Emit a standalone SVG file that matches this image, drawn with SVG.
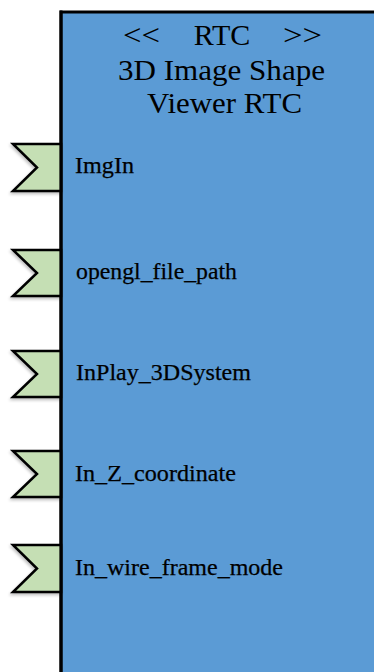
<svg xmlns="http://www.w3.org/2000/svg" width="374" height="672" viewBox="0 0 374 672">
<style>
.box{fill:#5B9BD5;stroke:#000;stroke-width:3}
.port{fill:#C5DFB4;stroke:#000;stroke-width:2.5;stroke-linejoin:miter}
.title{font-family:"Liberation Serif",serif;font-size:30px;fill:#000;text-anchor:middle}
.lbl{font-family:"Liberation Serif",serif;font-size:23.5px;fill:#000;stroke:#000;stroke-width:0.25}
</style>
<defs>
<filter id="sh" x="-20%" y="-20%" width="150%" height="150%">
<feGaussianBlur in="SourceAlpha" stdDeviation="1.5"/>
<feOffset dx="-1" dy="2" result="b"/>
<feComponentTransfer><feFuncA type="linear" slope="0.25"/></feComponentTransfer>
<feMerge><feMergeNode/><feMergeNode in="SourceGraphic"/></feMerge>
</filter>
</defs>
<g id="rtc">
<rect class="box" x="61" y="12" width="340" height="700"/>
<text class="title" x="141.5" y="45" textLength="37" lengthAdjust="spacingAndGlyphs">&lt;&lt;</text>
<text class="title" x="222" y="45">RTC</text>
<text class="title" x="302.5" y="45" textLength="39" lengthAdjust="spacingAndGlyphs">&gt;&gt;</text>
<text class="title" x="221.5" y="80" textLength="207" lengthAdjust="spacingAndGlyphs">3D Image Shape</text>
<text class="title" x="224.5" y="113" textLength="155" lengthAdjust="spacingAndGlyphs">Viewer RTC</text>
</g>
<g id="connectors"></g>
<g id="port-ImgIn">
<polygon class="port" filter="url(#sh)" points="13,144 61,144 61,191 13,191 37,167.5"/>
<text class="lbl" x="75" y="173" textLength="59" lengthAdjust="spacingAndGlyphs">ImgIn</text>
</g>
<g id="port-opengl_file_path">
<polygon class="port" filter="url(#sh)" points="13,250 61,250 61,296 13,296 37,273"/>
<text class="lbl" x="76" y="279" textLength="161" lengthAdjust="spacingAndGlyphs">opengl_file_path</text>
</g>
<g id="port-InPlay_3DSystem">
<polygon class="port" filter="url(#sh)" points="13,351 61,351 61,397 13,397 37,374"/>
<text class="lbl" x="76" y="380" textLength="175" lengthAdjust="spacingAndGlyphs">InPlay_3DSystem</text>
</g>
<g id="port-In_Z_coordinate">
<polygon class="port" filter="url(#sh)" points="13,451 61,451 61,497 13,497 37,474"/>
<text class="lbl" x="75" y="481" textLength="161" lengthAdjust="spacingAndGlyphs">In_Z_coordinate</text>
</g>
<g id="port-In_wire_frame_mode">
<polygon class="port" filter="url(#sh)" points="13,545 61,545 61,592 13,592 37,568.5"/>
<text class="lbl" x="75" y="575" textLength="208" lengthAdjust="spacingAndGlyphs">In_wire_frame_mode</text>
</g>
<line x1="61" y1="10.5" x2="61" y2="672" stroke="#000" stroke-width="3"/>
</svg>
